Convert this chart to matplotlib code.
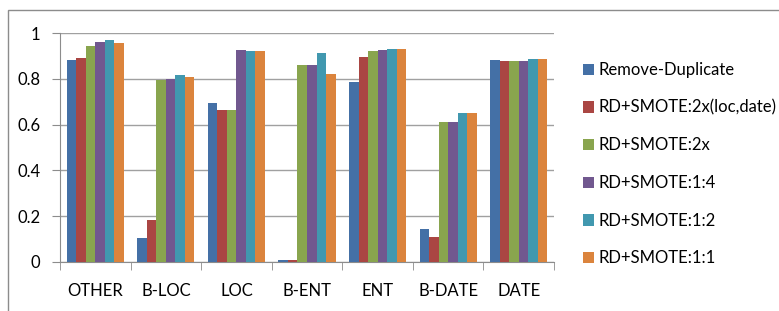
import numpy as np
import matplotlib.pyplot as plt
from matplotlib.patches import Rectangle

# categories and series
categories = ['OTHER', 'B-LOC', 'LOC', 'B-ENT', 'ENT', 'B-DATE', 'DATE']
series_names = ['Remove-Duplicate', 'RD+SMOTE:2x(loc,date)', 'RD+SMOTE:2x',
                'RD+SMOTE:1:4', 'RD+SMOTE:1:2', 'RD+SMOTE:1:1']
remove_dup = [0.882, 0.105, 0.694, 0.010, 0.786, 0.144, 0.881]
smote_2x_locdate = [0.891, 0.185, 0.665, 0.010, 0.895, 0.109, 0.876]
smote_2x = [0.942, 0.795, 0.665, 0.859, 0.920, 0.611, 0.876]
smote_1_4 = [0.961, 0.800, 0.926, 0.859, 0.926, 0.611, 0.876]
smote_1_2 = [0.968, 0.817, 0.920, 0.913, 0.929, 0.651, 0.885]
smote_1_1 = [0.956, 0.808, 0.920, 0.821, 0.929, 0.651, 0.885]
yticks = [0, 0.2, 0.4, 0.6, 0.8, 1]
ytick_labels = ['0', '0.2', '0.4', '0.6', '0.8', '1']

all_series = [remove_dup, smote_2x_locdate, smote_2x, smote_1_4, smote_1_2, smote_1_1]
colors = ['#4470A6', '#AA4643', '#89A54E', '#71588F', '#4198AF', '#DB843D']

plt.rcParams['font.family'] = ['Lato', 'DejaVu Sans']

fig = plt.figure(figsize=(7.79, 3.11), dpi=100)
ax = fig.add_axes([60 / 779, 1 - 262 / 311, 494 / 779, 229 / 311])

# outer frame of the chart area
fig.patches.append(Rectangle((8 / 779, -0.1), 1.1, 1 - 10 / 311 + 0.1,
                             transform=fig.transFigure, fill=False,
                             edgecolor='#8c8c8c', linewidth=1.0))

x = np.arange(len(categories))
bw = 0.135
for i, (vals, name, c) in enumerate(zip(all_series, series_names, colors)):
    ax.bar(x + (i - 2.5) * bw, vals, width=bw, color=c, label=name,
           edgecolor='none', zorder=3)

ax.set_xlim(-0.5, len(categories) - 0.5)
ax.set_ylim(0, 1)
ax.set_yticks(yticks)
ax.set_yticklabels(ytick_labels)
ax.yaxis.grid(True, color='#a0a0a0', linewidth=1.0, zorder=0)

ax.set_xticks(x)
ax.set_xticklabels(categories)
ax.set_xticks(np.arange(-0.5, len(categories)), minor=True)
ax.tick_params(axis='x', which='major', length=0, pad=15, labelsize=12)
ax.tick_params(axis='x', which='minor', length=6, color='#8c8c8c')
ax.tick_params(axis='y', length=6, color='#8c8c8c', pad=8, labelsize=12)

for s in ['top', 'right']:
    ax.spines[s].set_visible(False)
for s in ['left', 'bottom']:
    ax.spines[s].set_color('#8c8c8c')

leg = fig.legend(loc='upper left', bbox_to_anchor=(568 / 779, 1 - 47 / 311),
                 frameon=False, fontsize=12, handlelength=0.65, handleheight=0.65,
                 handletextpad=0.3, labelspacing=1.3)

fig.savefig('out.png', dpi=100)
